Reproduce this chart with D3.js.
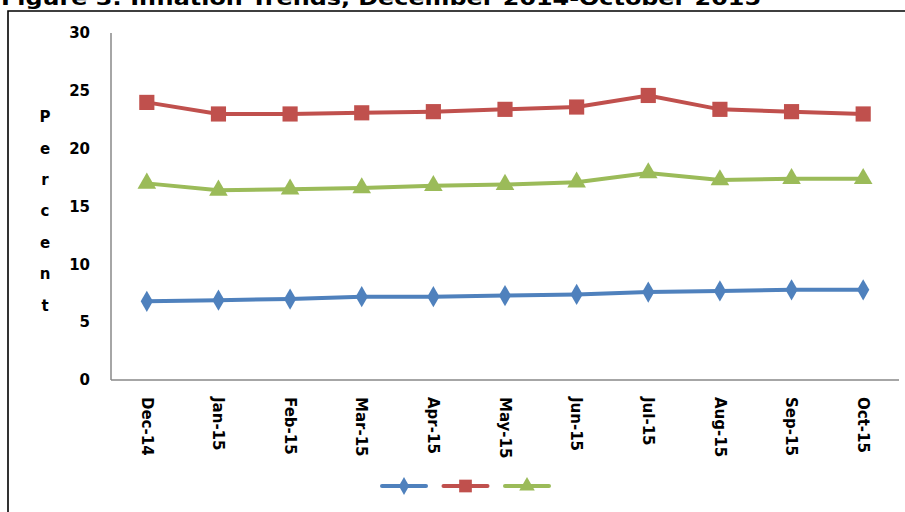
<!DOCTYPE html>
<html>
<head>
<meta charset="utf-8">
<script src="https://cdn.jsdelivr.net/npm/d3@7"></script>
<style>
  body { margin: 0; background: #fff; }
  svg { display: block; font-family: "DejaVu Sans", Verdana, sans-serif; font-weight: bold; }
</style>
</head>
<body>
<svg id="chart" width="905" height="512"></svg>
<script>
var months = ['Dec-14', 'Jan-15', 'Feb-15', 'Mar-15', 'Apr-15', 'May-15', 'Jun-15', 'Jul-15', 'Aug-15', 'Sep-15', 'Oct-15'];
var blueVals  = [6.8, 6.9, 7.0, 7.2, 7.2, 7.3, 7.4, 7.6, 7.7, 7.8, 7.8];
var redVals   = [24.0, 23.0, 23.0, 23.1, 23.2, 23.4, 23.6, 24.6, 23.4, 23.2, 23.0];
var greenVals = [17.0, 16.4, 16.5, 16.6, 16.8, 16.9, 17.1, 17.9, 17.3, 17.4, 17.4];
var yTicks = [0, 5, 10, 15, 20, 25, 30];
var titleText = 'Figure 3: Inflation Trends, December 2014-October 2015';
var axisLabel = 'Percent';

var series = [
    { vals: blueVals, c: '#4F81BD', shape: 'diamond' },
    { vals: redVals, c: '#C0504D', shape: 'square' },
    { vals: greenVals, c: '#9BBB59', shape: 'triangle' }
];

var svg = d3.select('#chart');

var x = d3.scaleBand().domain(months).range([111, 899]);
var y = d3.scaleLinear().domain([0, 30]).range([380, 33]);

function cx(d, i) { return x(months[i]) + x.bandwidth() / 2; }

// frame (only left and top are inside the picture)
svg.append('path')
    .attr('d', 'M8,512V11H905')
    .attr('fill', 'none')
    .attr('stroke', '#000')
    .attr('stroke-width', 1.6);

svg.append('text')
    .attr('x', 1)
    .attr('y', 5)
    .attr('font-size', 19)
    .attr('textLength', 760)
    .attr('lengthAdjust', 'spacingAndGlyphs')
    .text(titleText);

// axes
svg.append('line')
    .attr('x1', 111).attr('x2', 111)
    .attr('y1', y(30)).attr('y2', y(0))
    .attr('stroke', '#888').attr('stroke-width', 1.5);
svg.append('line')
    .attr('x1', 111).attr('x2', 899)
    .attr('y1', y(0)).attr('y2', y(0))
    .attr('stroke', '#888').attr('stroke-width', 1.5);

svg.selectAll('.ytick')
    .data(yTicks)
    .enter()
    .append('text')
    .attr('class', 'ytick')
    .attr('x', 90)
    .attr('y', function(d) { return y(d); })
    .attr('dy', '0.35em')
    .attr('text-anchor', 'end')
    .attr('font-size', 15)
    .text(function(d) { return d; });

svg.selectAll('.xtick')
    .data(months)
    .enter()
    .append('text')
    .attr('class', 'xtick')
    .attr('transform', function(d) {
        return 'translate(' + (x(d) + x.bandwidth() / 2) + ',397) rotate(90)';
    })
    .attr('dy', '0.35em')
    .attr('font-size', 15)
    .text(function(d) { return d; });

svg.selectAll('.ylab')
    .data(axisLabel.split(''))
    .enter()
    .append('text')
    .attr('class', 'ylab')
    .attr('x', 45)
    .attr('y', function(d, i) { return 117 + i * 31.4; })
    .attr('dy', '0.35em')
    .attr('text-anchor', 'middle')
    .attr('font-size', 15)
    .text(function(d) { return d; });

var symbols = { diamond: d3.symbolDiamond, square: d3.symbolSquare, triangle: d3.symbolTriangle };
var sizes = { diamond: 130, square: 230, triangle: 150 };

var line = d3.line()
    .x(function(d, i) { return cx(d, i); })
    .y(function(d) { return y(d); });

series.forEach(function(s) {
    svg.append('path')
        .attr('d', line(s.vals))
        .attr('fill', 'none')
        .attr('stroke', s.c)
        .attr('stroke-width', 4);

    svg.selectAll(null)
        .data(s.vals)
        .enter()
        .append('path')
        .attr('d', d3.symbol().type(symbols[s.shape]).size(sizes[s.shape]))
        .attr('transform', function(d, i) {
            return 'translate(' + cx(d, i) + ',' + y(d) + ')';
        })
        .attr('fill', s.c);
});

// legend (series have no names)
var legend = svg.selectAll('.leg')
    .data(series)
    .enter()
    .append('g')
    .attr('class', 'leg')
    .attr('transform', function(d, i) { return 'translate(' + (404 + i * 61.5) + ',486)'; });

legend.append('line')
    .attr('x1', -22).attr('x2', 22)
    .attr('stroke', function(d) { return d.c; })
    .attr('stroke-width', 4)
    .attr('stroke-linecap', 'round');

legend.append('path')
    .attr('d', function(d) {
        return d3.symbol().type(symbols[d.shape]).size(sizes[d.shape] * 0.7)();
    })
    .attr('fill', function(d) { return d.c; });
</script>
</body>
</html>
